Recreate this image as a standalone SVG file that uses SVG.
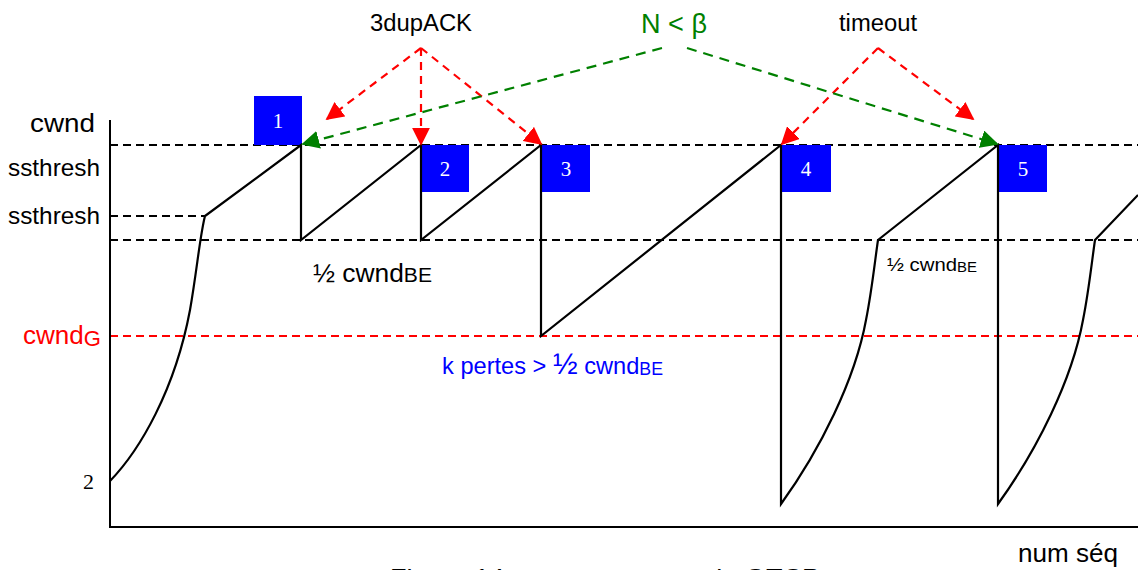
<svg xmlns="http://www.w3.org/2000/svg" width="1138" height="570" viewBox="0 0 1138 570">
<defs>
<style>
.t{font-family:"Liberation Sans",Arial,sans-serif;fill:#000}
.s{font-family:"Liberation Serif","Times New Roman",serif}
.ax{stroke:#000;stroke-width:2;fill:none}
.cv{stroke:#000;stroke-width:2.2;fill:none;stroke-linejoin:miter}
.dk{stroke:#000;stroke-width:1.8;stroke-dasharray:8 5;fill:none}
.dr{stroke:#ff0000;stroke-width:1.8;stroke-dasharray:8 5;fill:none}
.ar{stroke:#ff0000;stroke-width:2.2;stroke-dasharray:8 6;fill:none}
.ag{stroke:#008000;stroke-width:2.2;stroke-dasharray:10 7;fill:none}
.box{fill:#0000ff}
.num{font-family:"Liberation Serif","Times New Roman",serif;font-size:21px;fill:#fff;text-anchor:middle}
</style>
<marker id="mr" viewBox="0 0 10 10" refX="9" refY="5" markerWidth="18" markerHeight="18" markerUnits="userSpaceOnUse" orient="auto"><path d="M0,0 L10,5 L0,10 z" fill="#ff0000"/></marker>
<marker id="mg" viewBox="0 0 10 10" refX="9" refY="5" markerWidth="18" markerHeight="18" markerUnits="userSpaceOnUse" orient="auto"><path d="M0,0 L10,5 L0,10 z" fill="#008000"/></marker>
</defs>
<rect width="1138" height="570" fill="#fff"/>
<g id="grid">
<line class="dk" x1="110" y1="145" x2="1138" y2="145"/>
<line class="dk" x1="110" y1="216" x2="205" y2="216"/>
<line class="dk" x1="110" y1="240" x2="1138" y2="240"/>
<line class="dr" x1="110" y1="336" x2="1138" y2="336"/>
</g>
<g id="axes">
<line class="ax" x1="110" y1="120" x2="110" y2="528"/>
<line class="ax" x1="109" y1="527" x2="1138" y2="527"/>
</g>
<g id="boxes">
<g id="b1"><rect class="box" x="254" y="96" width="48" height="49"/><text class="num" x="278" y="128">1</text></g>
<g id="b2"><rect class="box" x="421" y="145" width="48" height="47"/><text class="num" x="445" y="176">2</text></g>
<g id="b3"><rect class="box" x="541" y="145" width="49" height="47"/><text class="num" x="566" y="176">3</text></g>
<g id="b4"><rect class="box" x="781" y="145" width="50" height="47"/><text class="num" x="806" y="176">4</text></g>
<g id="b5"><rect class="box" x="998" y="145" width="49" height="47"/><text class="num" x="1023" y="176">5</text></g>
</g>
<g id="curve">
<path class="cv" d="M110,481 C140,450 175,390 190,310 C197,270 200,235 205,216 L301,145 L301,240 L421,145 L421,240 L541,145 L541,336 L781,145 L781,504 C820,450 855,380 866,320 C872,290 875,260 878,240 L998,145 L998,504 C1037,450 1072,380 1083,320 C1089,290 1092,260 1095,240 L1138,195"/>
</g>
<g id="connectors">
<line class="ar" x1="421" y1="48" x2="327" y2="119" marker-end="url(#mr)"/>
<line class="ar" x1="421" y1="48" x2="421" y2="144" marker-end="url(#mr)"/>
<line class="ar" x1="421" y1="48" x2="541" y2="144" marker-end="url(#mr)"/>
<line class="ar" x1="878" y1="48" x2="782" y2="144" marker-end="url(#mr)"/>
<line class="ar" x1="878" y1="48" x2="973" y2="119" marker-end="url(#mr)"/>
<line class="ag" x1="662" y1="48" x2="303" y2="144" marker-end="url(#mg)"/>
<line class="ag" x1="687" y1="48" x2="997" y2="144" marker-end="url(#mg)"/>
</g>
<g id="labels">
<text class="t" x="30" y="132" font-size="26" textLength="65" lengthAdjust="spacingAndGlyphs">cwnd</text>
<text class="t" x="8" y="176" font-size="24" textLength="92" lengthAdjust="spacingAndGlyphs">ssthresh</text>
<text class="t" x="8" y="224" font-size="24" textLength="92" lengthAdjust="spacingAndGlyphs">ssthresh</text>
<text class="t" x="23" y="344" font-size="26" style="fill:#ff0000" textLength="78" lengthAdjust="spacingAndGlyphs">cwnd<tspan font-size="22" dy="2">G</tspan></text>
<text class="s" x="94" y="489" font-size="22" text-anchor="end">2</text>
<text class="t" x="370" y="31" font-size="23" textLength="102" lengthAdjust="spacingAndGlyphs">3dupACK</text>
<text class="t" x="641" y="33" font-size="27" style="fill:#008000" textLength="66" lengthAdjust="spacingAndGlyphs">N &lt; β</text>
<text class="t" x="839" y="31" font-size="23" textLength="78" lengthAdjust="spacingAndGlyphs">timeout</text>
<text class="t" x="313" y="282" font-size="25" textLength="119" lengthAdjust="spacingAndGlyphs">½ cwnd<tspan font-size="20">BE</tspan></text>
<text class="t" x="887" y="271" font-size="19" textLength="90" lengthAdjust="spacingAndGlyphs">½ cwnd<tspan font-size="14" dy="1">BE</tspan></text>
<text class="t" x="442" y="374" font-size="24" style="fill:#0000ff" textLength="221" lengthAdjust="spacingAndGlyphs">k pertes &gt; <tspan font-size="30">½</tspan> cwnd<tspan font-size="18" dy="1">BE</tspan></text>
<text class="t" x="1018" y="562" font-size="25" textLength="100" lengthAdjust="spacingAndGlyphs">num séq</text>
<text class="t" x="390" y="586" font-size="24" textLength="430" lengthAdjust="spacingAndGlyphs">Figure 14 :    comportement de GTCP</text>
</g>
</svg>
